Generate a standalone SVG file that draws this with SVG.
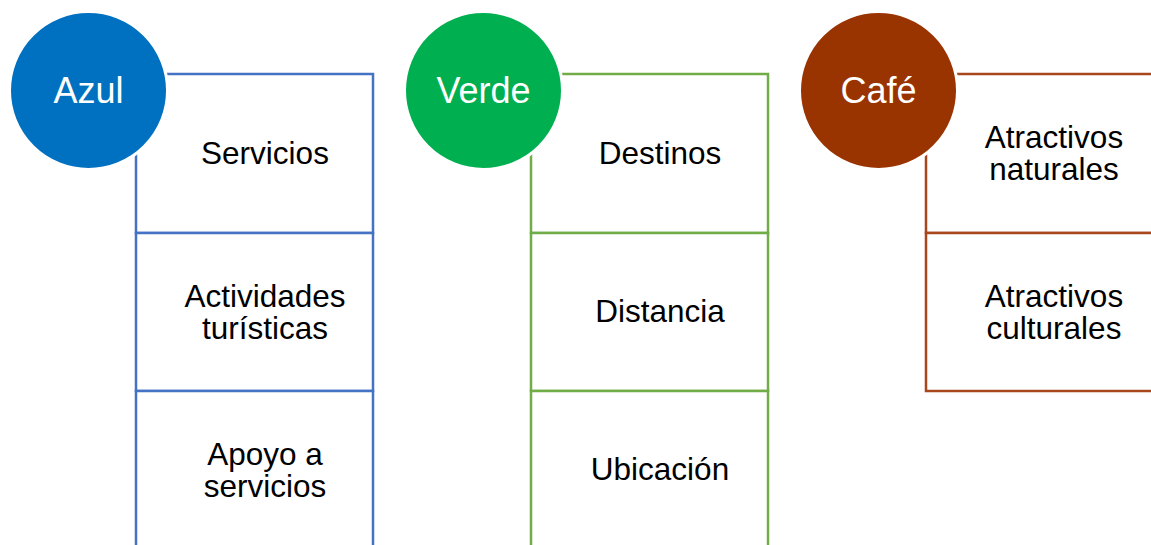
<svg xmlns="http://www.w3.org/2000/svg" width="1151" height="545" viewBox="0 0 1151 545">
<style>
.box{fill:#ffffff;stroke-width:2.5}
.b{stroke:#4472C4}
.g{stroke:#70AD47}
.c{stroke:#A8461C}
.circ{stroke:#ffffff;stroke-width:3}
.lbl{font-family:"Liberation Sans",Arial,sans-serif;font-size:31.5px;fill:#000000;text-anchor:middle}
.head{font-family:"Liberation Sans",Arial,sans-serif;font-size:36px;fill:#ffffff;text-anchor:middle}
</style>
<rect width="1151" height="545" fill="#ffffff"/>
<g id="azul-col">
  <g id="servicios"><rect class="box b" x="136" y="74" width="237" height="159"/><text class="lbl" x="265" y="164">Servicios</text></g>
  <g id="actividades"><rect class="box b" x="136" y="233" width="237" height="158"/><text class="lbl" x="265" y="307">Actividades<tspan x="265" dy="32">turísticas</tspan></text></g>
  <g id="apoyo"><rect class="box b" x="136" y="391" width="237" height="160"/><text class="lbl" x="265" y="465">Apoyo a<tspan x="265" dy="32">servicios</tspan></text></g>
  <g id="azul"><circle class="circ" cx="88.5" cy="90.5" r="79" fill="#0070C0"/><text class="head" x="88.5" y="103">Azul</text></g>
</g>
<g id="verde-col">
  <g id="destinos"><rect class="box g" x="531" y="74" width="237" height="159"/><text class="lbl" x="660" y="164">Destinos</text></g>
  <g id="distancia"><rect class="box g" x="531" y="233" width="237" height="158"/><text class="lbl" x="660" y="322">Distancia</text></g>
  <g id="ubicacion"><rect class="box g" x="531" y="391" width="237" height="160"/><text class="lbl" x="660" y="480">Ubicación</text></g>
  <g id="verde"><circle class="circ" cx="483.5" cy="90.5" r="79" fill="#00B050"/><text class="head" x="483.5" y="103">Verde</text></g>
</g>
<g id="cafe-col">
  <g id="naturales"><rect class="box c" x="926" y="74" width="237" height="159"/><text class="lbl" x="1054" y="148">Atractivos<tspan x="1054" dy="32">naturales</tspan></text></g>
  <g id="culturales"><rect class="box c" x="926" y="233" width="237" height="158"/><text class="lbl" x="1054" y="307">Atractivos<tspan x="1054" dy="32">culturales</tspan></text></g>
  <g id="cafe"><circle class="circ" cx="878.5" cy="90.5" r="79" fill="#993300"/><text class="head" x="878.5" y="103">Café</text></g>
</g>
<g id="connectors"></g>
</svg>
